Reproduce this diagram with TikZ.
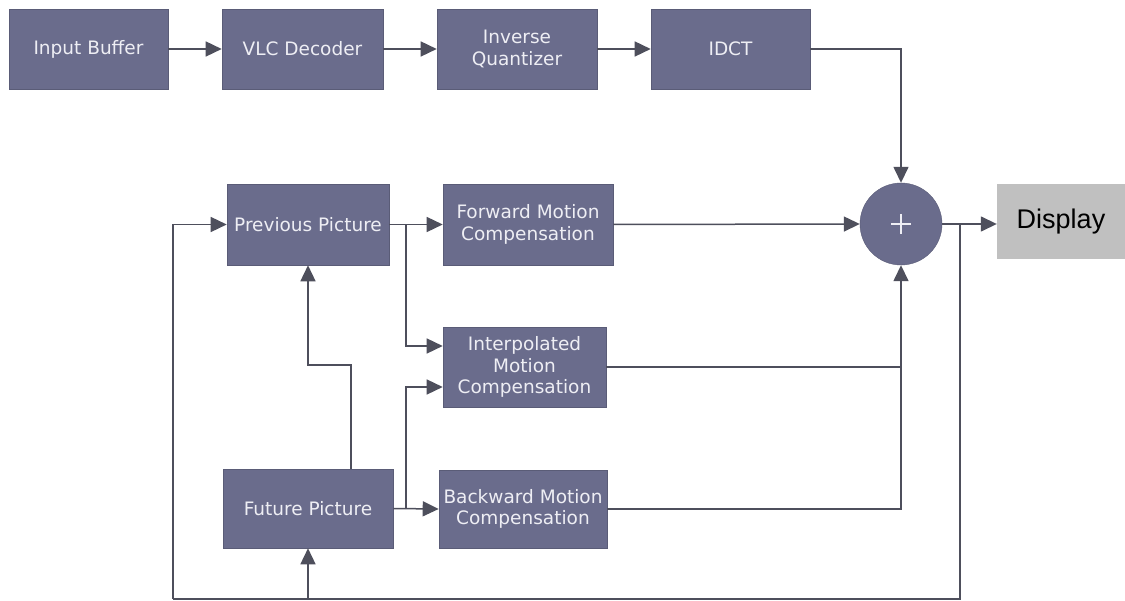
\documentclass[tikz,border=0pt]{standalone}
\usepackage{fontspec}
\usetikzlibrary{arrows.meta,calc}
\newfontfamily\boxfont{DejaVu Sans}
\newfontfamily\dispfont{Liberation Sans}
\definecolor{blockfill}{HTML}{6A6C8C}
\definecolor{blocktext}{HTML}{EEEEF4}
\definecolor{wire}{HTML}{4E4F5C}
\definecolor{dispfill}{HTML}{C0C0C0}
\tikzset{
  block/.style={draw=blockfill!85!black, line width=0.6pt, fill=blockfill, text=blocktext,
    font=\boxfont\fontsize{18.5}{21.5}\selectfont, align=center,
    inner sep=0pt, minimum height=80pt},
  adder/.style={circle, fill=blockfill, draw=blockfill!85!black, minimum size=82pt, inner sep=0pt},
  dispbox/.style={fill=dispfill, text=black, font=\dispfont\fontsize{27}{30}\selectfont,
    inner sep=0pt, minimum width=128pt, minimum height=75pt},
  wireline/.style={draw=wire, line width=1.5pt},
  flow/.style={wireline, -{Triangle[length=16pt,width=15pt]}},
}
\begin{document}
\begin{tikzpicture}[x=1pt,y=-1pt]
\useasboundingbox[fill=white] (0,0) rectangle (1125,601);

% top row: decoding chain
\node[block, minimum width=159pt] (inbuf) at (88.5,49) {Input Buffer};
\node[block, minimum width=161pt] (vlc) at (302.5,49) {VLC Decoder};
\node[block, minimum width=160pt] (invq) at (517,49) {Inverse\\Quantizer};
\node[block, minimum width=159pt] (idct) at (730.5,49) {IDCT};

% reference pictures and motion compensation
\node[block, minimum width=162pt, minimum height=81pt] (prev) at (308,224.5) {Previous Picture};
\node[block, minimum width=170pt, minimum height=81pt] (fwd) at (528,224.5) {Forward Motion\\Compensation};
\node[block, minimum width=163pt] (interp) at (524.5,367) {Interpolated\\Motion\\Compensation};
\node[block, minimum width=170pt, minimum height=79pt] (future) at (308,508.5) {Future Picture};
\node[block, minimum width=168pt, minimum height=78pt] (bwd) at (523,509) {Backward Motion\\Compensation};

% summing junction and output
\node[adder] (sum) at (901,224) {};
\draw[blocktext, line width=1.4pt] ($(sum)+(-10,0)$) -- ($(sum)+(10,0)$)
  ($(sum)+(0,-10)$) -- ($(sum)+(0,10)$);
\node[dispbox] (disp) at (1061,221.5) {Display};

% branch points
\coordinate (tapout) at (960,224);
\coordinate (tapprev) at (406,224.5);
\coordinate (tapfut) at (406,509);

% top chain connectors
\draw[flow] (inbuf) -- (vlc);
\draw[flow] (vlc) -- (invq);
\draw[flow] (invq) -- (idct);
\draw[flow] (idct.east) -| (sum.north);

% output and feedback loop
\draw[flow] (sum.east) -- (sum.east -| disp.west);
\draw[wireline] (tapout) -- (960,599) -- (173,599);
\draw[flow] (173,599) |- (prev.west);
\draw[flow] (future.south |- 0,599) -- (future.south);

% previous picture outputs
\draw[flow] (prev.east) -- (fwd.west);
\draw[flow] (tapprev) |- (interp.west |- 0,346);

% future picture outputs
\draw[flow] (future.east) -- (bwd.west);
\draw[flow] (tapfut) |- (interp.west |- 0,387);
\draw[flow] (future.north -| 351,0) -- (351,365) -- (308,365) -- (prev.south);

% motion compensation into the adder
\draw[flow] (fwd.east) -- (sum.west);
\draw[wireline] (interp.east) -- (901,367);
\draw[flow] (bwd.east) -| (sum.south);
\end{tikzpicture}
\end{document}
